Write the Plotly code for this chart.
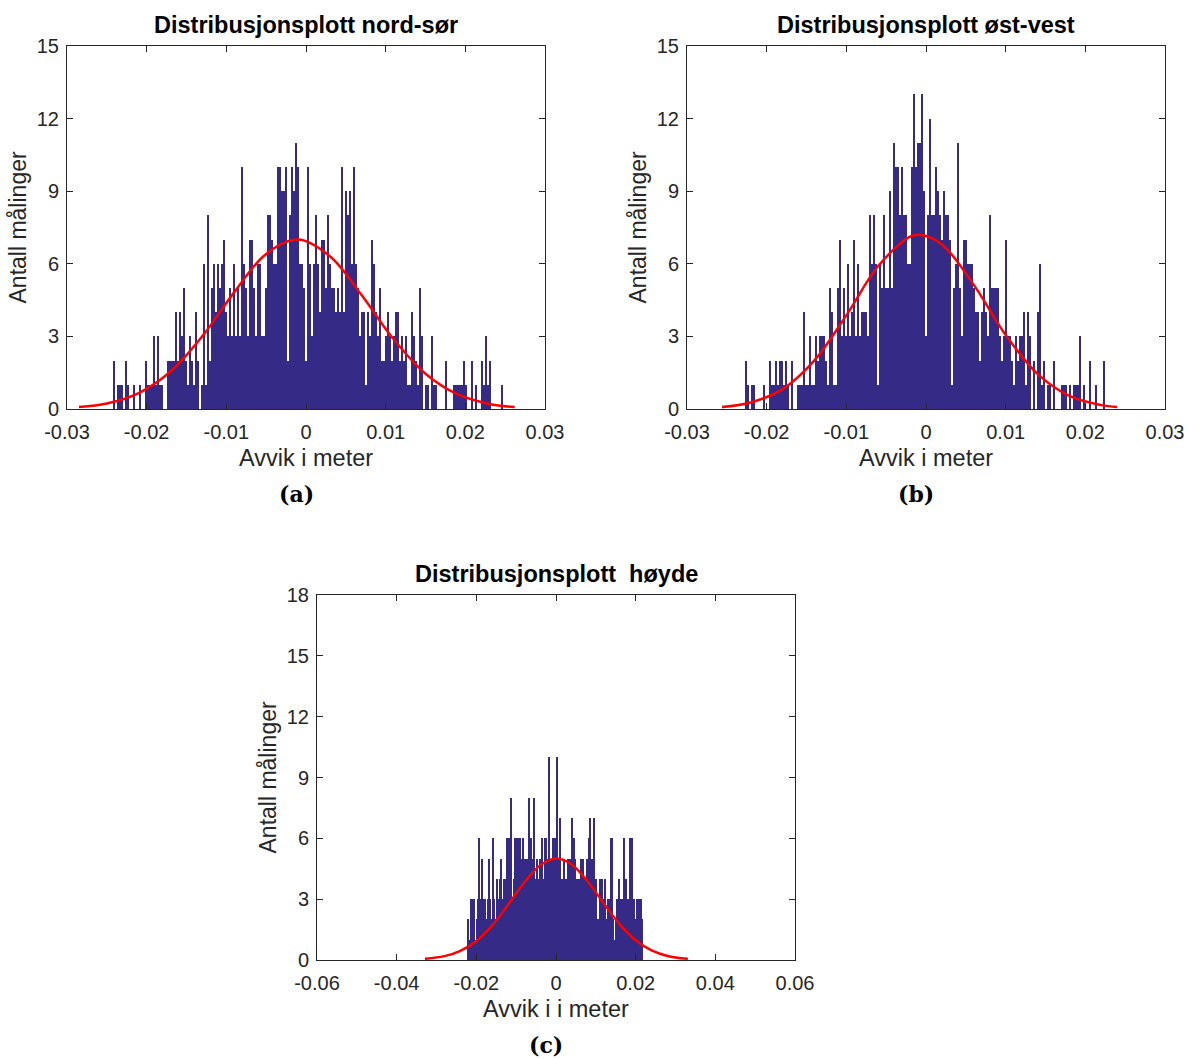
import plotly.graph_objects as go

W, H = 1189, 1059

# ---------------- data ----------------
# (a) nord-sør : histogram counts (bins of equal width starting at A_START)
A_START = -0.0242
A_BIN = 0.000251
A_COUNTS = [2, 0, 1, 1, 1, 0, 2, 1, 0, 0,
            1, 0, 0, 1, 0, 0, 2, 1, 1, 1,
            3, 1, 3, 1, 1, 0, 0, 2, 2, 2,
            2, 4, 2, 4, 3, 5, 2, 1, 3, 2,
            1, 4, 2, 0, 1, 6, 1, 8, 2, 5,
            6, 4, 6, 5, 6, 7, 4, 3, 5, 3,
            6, 3, 5, 3, 10, 6, 5, 3, 7, 7,
            5, 3, 6, 6, 3, 3, 5, 8, 8, 7,
            6, 6, 10, 10, 9, 9, 10, 2, 8, 10,
            9, 11, 10, 6, 6, 5, 2, 10, 6, 3,
            6, 8, 6, 4, 7, 7, 5, 8, 6, 5,
            5, 4, 5, 4, 10, 4, 9, 8, 9, 6,
            10, 6, 5, 3, 4, 4, 1, 4, 3, 7,
            6, 4, 3, 5, 2, 2, 3, 4, 3, 2,
            3, 4, 4, 2, 3, 2, 3, 1, 1, 4,
            3, 2, 1, 5, 3, 0, 1, 1, 0, 3,
            1, 1, 0, 0, 0, 0, 2, 0, 0, 0,
            1, 1, 1, 1, 1, 2, 1, 0, 0, 2,
            0, 1, 0, 0, 2, 1, 3, 1, 2, 0,
            0, 0, 0, 0, 1]
A_FIT_X = [-0.0285, -0.025, -0.021, -0.017, -0.013, -0.009, -0.005, -0.001,
           0.003, 0.007, 0.011, 0.015, 0.019, 0.023, 0.0262]
A_FIT_Y = [0.08, 0.23, 0.66, 1.55, 3.01, 4.83, 6.41, 7.0,
           6.31, 4.70, 2.88, 1.46, 0.61, 0.21, 0.08]

# (b) øst-vest
B_START = -0.0227
B_BIN = 0.000251
B_COUNTS = [2, 1, 0, 1, 1, 0, 0, 0, 0, 1,
            0, 0, 2, 1, 1, 2, 1, 2, 2, 1,
            2, 1, 0, 2, 0, 0, 1, 1, 1, 4,
            1, 1, 3, 1, 1, 3, 2, 3, 3, 3,
            2, 1, 5, 4, 1, 1, 5, 7, 3, 5,
            3, 6, 3, 4, 7, 3, 6, 3, 4, 4,
            4, 3, 8, 6, 8, 6, 1, 6, 5, 8,
            5, 5, 9, 5, 11, 10, 10, 8, 10, 8,
            8, 6, 6, 10, 13, 10, 11, 11, 13, 9,
            3, 8, 12, 8, 8, 10, 9, 8, 7, 9,
            8, 8, 7, 1, 5, 6, 11, 5, 3, 7,
            7, 6, 6, 6, 5, 4, 4, 2, 4, 5,
            4, 3, 8, 5, 5, 5, 5, 3, 2, 3,
            7, 3, 3, 2, 1, 3, 2, 3, 3, 4,
            1, 4, 3, 0, 2, 0, 4, 6, 1, 2,
            0, 1, 1, 0, 2, 0, 0, 0, 1, 1,
            1, 0, 1, 0, 1, 1, 1, 3, 0, 1,
            0, 0, 2, 0, 0, 1, 0, 0, 0, 2]
B_FIT_X = [-0.0256, -0.022, -0.018, -0.014, -0.010, -0.006, -0.002, -0.0008,
           0.002, 0.006, 0.010, 0.014, 0.018, 0.022, 0.024]
B_FIT_Y = [0.08, 0.27, 0.82, 2.01, 3.87, 5.91, 7.12, 7.2,
           6.80, 5.13, 3.06, 1.45, 0.54, 0.16, 0.08]

# (c) høyde
C_START = -0.0221
C_BIN = 0.000343
C_COUNTS = [2, 1, 3, 3, 3, 1, 2, 3, 6, 3,
            5, 3, 3, 2, 3, 5, 3, 2, 6, 3,
            2, 4, 3, 4, 5, 3, 4, 4, 6, 5,
            6, 8, 3, 4, 6, 6, 6, 6, 6, 5,
            6, 5, 5, 5, 8, 4, 6, 5, 8, 4,
            5, 4, 5, 5, 6, 4, 6, 6, 5, 10,
            5, 5, 6, 6, 6, 10, 5, 7,
            4, 4, 5, 4, 4, 5, 5, 5, 7, 6,
            5, 4, 4, 4, 5, 5, 5, 4, 2, 5,
            6, 7, 5, 5, 7, 4, 2, 2, 4, 3,
            4, 3, 4, 2, 3, 3, 6, 6, 2, 1,
            2, 3, 4, 3, 3, 3, 6, 4, 2, 3,
            6, 1, 6, 3, 2, 3, 2, 3, 3, 2]
C_FIT_X = [-0.0329, -0.028, -0.024, -0.020, -0.016, -0.012, -0.008, -0.004, 0.0001,
           0.004, 0.008, 0.012, 0.016, 0.020, 0.024, 0.028, 0.0331]
C_FIT_Y = [0.056, 0.19, 0.45, 0.94, 1.71, 2.73, 3.81, 4.66, 5.0,
           4.70, 3.86, 2.79, 1.76, 0.97, 0.47, 0.20, 0.056]

X_TICKS_AB = [-0.03, -0.02, -0.01, 0, 0.01, 0.02, 0.03]
X_TICKTEXT_AB = ["-0.03", "-0.02", "-0.01", "0", "0.01", "0.02", "0.03"]
X_TICKS_C = [-0.06, -0.04, -0.02, 0, 0.02, 0.04, 0.06]
X_TICKTEXT_C = ["-0.06", "-0.04", "-0.02", "0", "0.02", "0.04", "0.06"]
Y_TICKS_AB = [0, 3, 6, 9, 12, 15]
Y_TICKS_C = [0, 3, 6, 9, 12, 15, 18]

TITLES = ["Distribusjonsplott nord-sør", "Distribusjonsplott øst-vest", "Distribusjonsplott  høyde"]
XLABELS = ["Avvik i meter", "Avvik i meter", "Avvik i i meter"]
YLABEL = "Antall målinger"
CAPTIONS = ["(a)", "(b)", "(c)"]

# ---------------- styling ----------------
BAR_COLOR = "#352a86"
FIT_COLOR = "#ff0000"
AXIS_COLOR = "#262626"
SANS = "Liberation Sans, Arial, sans-serif"


def centers(start, width, counts):
    return [start + (i + 0.5) * width for i in range(len(counts))]


fig = go.Figure()

panels = [
    (A_START, A_BIN, A_COUNTS, A_FIT_X, A_FIT_Y, "x", "y"),
    (B_START, B_BIN, B_COUNTS, B_FIT_X, B_FIT_Y, "x2", "y2"),
    (C_START, C_BIN, C_COUNTS, C_FIT_X, C_FIT_Y, "x3", "y3"),
]
for start, width, counts, fx, fy, xa, ya in panels:
    fig.add_trace(go.Bar(
        x=centers(start, width, counts), y=counts, width=width,
        marker=dict(color=BAR_COLOR, line=dict(width=0)),
        xaxis=xa, yaxis=ya, showlegend=False, hoverinfo="skip"))
    fig.add_trace(go.Scatter(
        x=fx, y=fy, mode="lines", line=dict(color=FIT_COLOR, width=2.5, shape="spline"),
        xaxis=xa, yaxis=ya, showlegend=False, hoverinfo="skip"))


def px(x):
    return x / W


def py(y):
    return 1 - y / H


def axis(domain, rng, tickvals, ticktext, anchor, standoff):
    return dict(domain=domain, range=rng, tickvals=tickvals, ticktext=ticktext,
                anchor=anchor, showline=True, linecolor=AXIS_COLOR, linewidth=1,
                mirror="ticks", ticks="inside", ticklen=6, tickwidth=1,
                tickcolor=AXIS_COLOR, showgrid=False, zeroline=False, automargin=False,
                ticklabelstandoff=standoff,
                tickfont=dict(family=SANS, size=20, color=AXIS_COLOR), fixedrange=True)


boxes = [
    (67, 545, 46, 409),
    (687, 1165, 46, 409),
    (317, 795, 595, 960),
]

fig.update_layout(
    width=W, height=H, margin=dict(l=0, r=0, t=0, b=0, autoexpand=False),
    paper_bgcolor="white", plot_bgcolor="white",
    bargap=0, barmode="overlay",
    xaxis=axis([px(67), px(545)], [-0.03, 0.03], X_TICKS_AB, X_TICKTEXT_AB, "y", 5),
    yaxis=axis([py(409), py(46)], [0, 15], Y_TICKS_AB, [str(v) for v in Y_TICKS_AB], "x", 3),
    xaxis2=axis([px(687), px(1165)], [-0.03, 0.03], X_TICKS_AB, X_TICKTEXT_AB, "y2", 5),
    yaxis2=axis([py(409), py(46)], [0, 15], Y_TICKS_AB, [str(v) for v in Y_TICKS_AB], "x2", 3),
    xaxis3=axis([px(317), px(795)], [-0.06, 0.06], X_TICKS_C, X_TICKTEXT_C, "y3", 5),
    yaxis3=axis([py(960), py(595)], [0, 18], Y_TICKS_C, [str(v) for v in Y_TICKS_C], "x3", 3),
)

annotations = []
for i, (l, r, t, b) in enumerate(boxes):
    cx = (l + r) / 2
    annotations.append(dict(text="<b>" + TITLES[i] + "</b>", x=px(cx), y=py(t - 21),
                            xref="paper", yref="paper", xanchor="center", yanchor="middle",
                            showarrow=False, font=dict(family=SANS, size=23.5, color="black")))
    annotations.append(dict(text=XLABELS[i], x=px(cx), y=py(b + 49),
                            xref="paper", yref="paper", xanchor="center", yanchor="middle",
                            showarrow=False, font=dict(family=SANS, size=23.5, color=AXIS_COLOR)))
    annotations.append(dict(text=YLABEL, x=px(l - 50), y=py((t + b) / 2),
                            xref="paper", yref="paper", xanchor="center", yanchor="middle",
                            textangle=-90, showarrow=False,
                            font=dict(family=SANS, size=23, color=AXIS_COLOR)))
    annotations.append(dict(text="<b>" + CAPTIONS[i] + "</b>", x=px(cx - 10), y=py(b + 85),
                            xref="paper", yref="paper", xanchor="center", yanchor="middle",
                            showarrow=False,
                            font=dict(family="DejaVu Serif, Liberation Serif, serif", size=22, color="black")))
fig.update_layout(annotations=annotations)

fig.write_html("out.html")
